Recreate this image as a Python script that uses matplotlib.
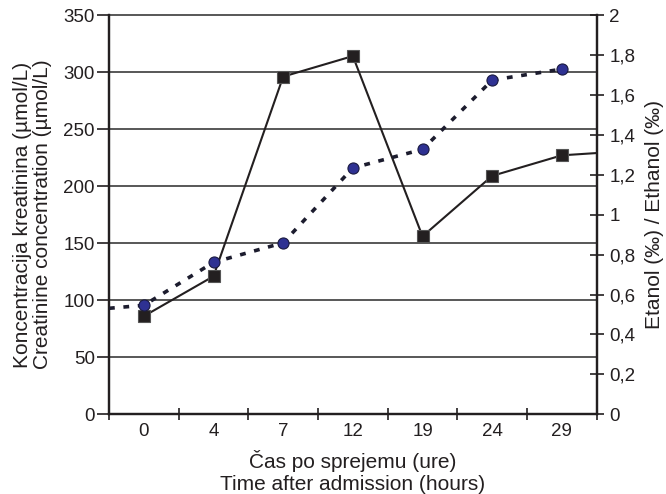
import matplotlib
matplotlib.use("Agg")
import matplotlib.pyplot as plt
import numpy as np

categories = ["0", "4", "7", "12", "19", "24", "29"]
creatinine = [86, 121, 296, 314, 156, 209, 227]
creatinine_right_edge = 229
ethanol = [0.546, 0.761, 0.859, 1.234, 1.327, 1.674, 1.729]
ethanol_left_edge = 0.531
left_ticks = [0, 50, 100, 150, 200, 250, 300, 350]
right_ticks = [0, 0.2, 0.4, 0.6, 0.8, 1.0, 1.2, 1.4, 1.6, 1.8, 2.0]

plt.rcParams['font.family'] = ['Liberation Sans', 'DejaVu Sans']

TXT = '#231f20'
fig = plt.figure(figsize=(6.66, 4.94), dpi=100)
ax = fig.add_axes([109 / 666, 1 - 414.3 / 494, (596.7 - 109) / 666, (414.3 - 15) / 494])
n = len(categories)
x = np.arange(n)

ax.set_xlim(-0.5, n - 0.5)
ax.set_ylim(0, 350)
ax.set_yticks(left_ticks)
for v in left_ticks[1:]:
    ax.axhline(v, color='#4a4a4a', lw=1.3, zorder=1, clip_on=False)

# creatinine: solid with squares
ax.plot(list(x) + [n - 0.5], creatinine + [creatinine_right_edge],
        color=TXT, lw=1.5, zorder=3)
ax.plot(x, creatinine, ls='none', marker='s', ms=9,
        mfc=TXT, mec='#555555', mew=0.8, zorder=4)

ax2 = ax.twinx()
ax2.set_ylim(0, 2)
ax2.set_yticks(right_ticks)
ax2.set_yticklabels([("%g" % t).replace('.', ',') for t in right_ticks])
ax2.plot([-0.5] + list(x), [ethanol_left_edge] + ethanol,
         color='#1c1c2e', lw=2.6, ls=(0, (1.6, 2.4)), zorder=3)
ax2.plot(x, ethanol, ls='none', marker='o', ms=8,
         mfc='#2e3192', mec='#1a1a40', mew=0.8, zorder=4)

# x ticks at boundaries, labels at centers
ax.set_xticks(np.arange(-0.5, n, 1.0))
ax.set_xticklabels([])
ax.set_xticks(x, minor=True)
ax.set_xticklabels(categories, minor=True)
ax.tick_params(axis='x', which='major', direction='inout', length=8, width=1.2, color=TXT)
ax.tick_params(axis='x', which='minor', length=0, pad=6.5, labelsize=13.5, labelcolor=TXT)
ax.tick_params(axis='y', direction='out', length=8.6, width=1.2, labelsize=13.5,
               labelcolor=TXT, pad=1.5, color=TXT)
ax2.tick_params(axis='y', direction='inout', length=9.4, width=1.2, labelsize=13.5,
                labelcolor=TXT, pad=4.5, color=TXT)

for a in (ax, ax2):
    for s in a.spines.values():
        s.set_linewidth(1.6)
        s.set_color(TXT)
    a.spines['top'].set_visible(False)

ax.set_xlabel("Čas po sprejemu (ure)\nTime after admission (hours)",
              fontsize=15, color=TXT, linespacing=1.2, labelpad=7)
ax.set_ylabel("Koncentracija kreatinina (µmol/L)\nCreatinine concentration (µmol/L)",
              fontsize=15, color=TXT, linespacing=1.12, labelpad=8)
ax2.set_ylabel("Etanol (‰) / Ethanol (‰)", fontsize=15, color=TXT, labelpad=7)

fig.savefig("out.png", dpi=100)
